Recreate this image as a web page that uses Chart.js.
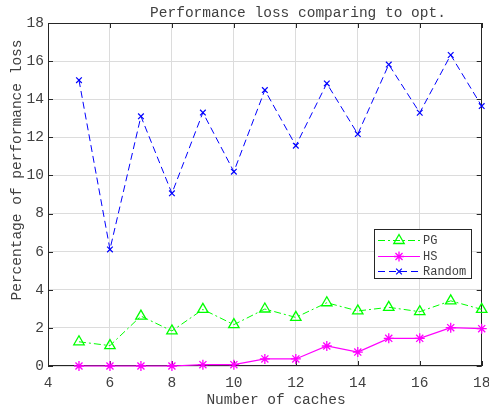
<!DOCTYPE html>
<html>
<head>
<meta charset="utf-8">
<script src="https://cdn.jsdelivr.net/npm/chart.js@4/dist/chart.umd.min.js"></script>
<style>
html,body{margin:0;padding:0;background:#fff;}
#wrap{width:489px;height:408px;position:relative;}
</style>
</head>
<body>
<div id="wrap"><canvas id="c" width="489" height="408"></canvas></div>
<script>
const caches = [5, 6, 7, 8, 9, 10, 11, 12, 13, 14, 15, 16, 17, 18];
const pgValues = [1.27, 1.07, 2.62, 1.84, 2.97, 2.17, 2.99, 2.55, 3.32, 2.89, 3.08, 2.85, 3.42, 2.97];
const hsValues = [0, 0, 0, 0, 0.07, 0.07, 0.37, 0.37, 1.05, 0.73, 1.45, 1.45, 2.01, 1.96];
const randomValues = [15.0, 6.12, 13.1, 9.06, 13.3, 10.2, 14.48, 11.56, 14.83, 12.17, 15.82, 13.29, 16.32, 13.64];
const xTicks = [4, 6, 8, 10, 12, 14, 16, 18];
const yTicks = [0, 2, 4, 6, 8, 10, 12, 14, 16, 18];
const titleText = 'Performance loss comparing to opt.';
const xLabel = 'Number of caches';
const yLabel = 'Percentage of performance loss';

const FONT = '"Liberation Mono", "Courier New", monospace';
const TXT = '#404040';
const AX = '#262626';

const toPts = vals => caches.map((c, i) => ({x: c, y: vals[i]}));

const datasets = [
  {label: 'PG', data: toPts(pgValues), borderColor: '#00ff00', backgroundColor: 'rgba(0,0,0,0)',
   borderWidth: 1, borderDash: [7, 3, 2, 3], pointStyle: 'triangle', pointRadius: 6,
   pointBorderColor: '#00ff00', pointBackgroundColor: 'rgba(0,0,0,0)', pointBorderWidth: 1.3, clip: false},
  {label: 'HS', data: toPts(hsValues), borderColor: '#ff00ff', backgroundColor: 'rgba(0,0,0,0)',
   borderWidth: 1.2, pointStyle: 'star', pointRadius: 5,
   pointBorderColor: '#ff00ff', pointBackgroundColor: '#ff00ff', pointBorderWidth: 1.3, clip: false},
  {label: 'Random', data: toPts(randomValues), borderColor: '#0000ff', backgroundColor: 'rgba(0,0,0,0)',
   borderWidth: 1, borderDash: [7, 4], pointStyle: 'crossRot', pointRadius: 4,
   pointBorderColor: '#0000ff', pointBackgroundColor: '#0000ff', pointBorderWidth: 1.2, clip: false}
];

const decor = {
  id: 'decor',
  beforeDatasetsDraw(chart) {
    const ctx = chart.ctx;
    const a = chart.chartArea;
    const xs = chart.scales.x, ys = chart.scales.y;
    ctx.save();
    ctx.strokeStyle = AX;
    ctx.lineWidth = 1;
    ctx.strokeRect(Math.round(a.left) + 0.5, Math.round(a.top) + 0.5,
                   Math.round(a.right - a.left) - 1, Math.round(a.bottom - a.top) - 1);
    const tl = 5;
    ctx.beginPath();
    xTicks.forEach(v => {
      const px = Math.round(xs.getPixelForValue(v)) + 0.5;
      ctx.moveTo(px, a.bottom); ctx.lineTo(px, a.bottom - tl);
      ctx.moveTo(px, a.top); ctx.lineTo(px, a.top + tl);
    });
    yTicks.forEach(v => {
      const py = Math.round(ys.getPixelForValue(v)) + 0.5;
      ctx.moveTo(a.left, py); ctx.lineTo(a.left + tl, py);
      ctx.moveTo(a.right, py); ctx.lineTo(a.right - tl, py);
    });
    ctx.stroke();
    ctx.restore();
  },
  afterDraw(chart) {
    const ctx = chart.ctx;
    ctx.save();
    ctx.fillStyle = TXT;
    ctx.font = '14.5px ' + FONT;
    ctx.textAlign = 'center';
    ctx.textBaseline = 'middle';
    ctx.fillText(titleText, 298, 13);
    ctx.fillText(xLabel, 276, 400);
    ctx.translate(17, 170);
    ctx.rotate(-Math.PI / 2);
    ctx.fillText(yLabel, 0, 0);
    ctx.restore();

    ctx.save();
    const bx = 374.5, by = 229.5, bw = 97, bh = 49;
    ctx.fillStyle = '#ffffff';
    ctx.fillRect(bx, by, bw, bh);
    ctx.strokeStyle = AX;
    ctx.lineWidth = 1;
    ctx.strokeRect(bx, by, bw, bh);
    const rows = [240, 256, 271];
    chart.data.datasets.forEach((ds, i) => {
      const y = rows[i] + 0.5;
      ctx.save();
      ctx.strokeStyle = ds.borderColor;
      ctx.lineWidth = ds.borderWidth;
      ctx.setLineDash(ds.borderDash || []);
      ctx.beginPath();
      ctx.moveTo(378, y); ctx.lineTo(420, y);
      ctx.stroke();
      ctx.setLineDash([]);
      ctx.fillStyle = ds.pointBackgroundColor;
      ctx.strokeStyle = ds.pointBorderColor;
      ctx.lineWidth = ds.pointBorderWidth;
      Chart.helpers.drawPoint(ctx, {
        pointStyle: ds.pointStyle, radius: ds.pointRadius, rotation: 0,
        borderWidth: ds.pointBorderWidth
      }, 399, y);
      ctx.restore();
      ctx.fillStyle = TXT;
      ctx.font = '12px ' + FONT;
      ctx.textAlign = 'left';
      ctx.textBaseline = 'middle';
      ctx.fillText(ds.label, 423, y + 0.5);
    });
    ctx.restore();
  }
};

new Chart(document.getElementById('c'), {
  type: 'line',
  data: {datasets},
  plugins: [decor],
  options: {
    responsive: false,
    animation: false,
    devicePixelRatio: 1,
    layout: {padding: {top: 23, right: 7, left: 0, bottom: 0}},
    plugins: {legend: {display: false}, title: {display: false}, tooltip: {enabled: false}},
    scales: {
      x: {
        type: 'linear', min: 4, max: 18,
        afterBuildTicks: s => { s.ticks = xTicks.map(v => ({value: v})); },
        afterFit: s => { s.height = 42; s.paddingLeft = 0; s.paddingRight = 0; },
        grid: {color: '#dcdcdc', drawTicks: false, lineWidth: 1},
        border: {display: false},
        ticks: {color: TXT, font: {family: FONT, size: 14.5}, padding: 8, maxRotation: 0, autoSkip: false}
      },
      y: {
        type: 'linear', min: 0, max: 18,
        afterBuildTicks: s => { s.ticks = yTicks.map(v => ({value: v})); },
        afterFit: s => { s.width = 48; s.paddingTop = 0; s.paddingBottom = 0; },
        grid: {color: '#dcdcdc', drawTicks: false, lineWidth: 1},
        border: {display: false},
        ticks: {color: TXT, font: {family: FONT, size: 14.5}, padding: 4, autoSkip: false}
      }
    }
  }
});
</script>
</body>
</html>
